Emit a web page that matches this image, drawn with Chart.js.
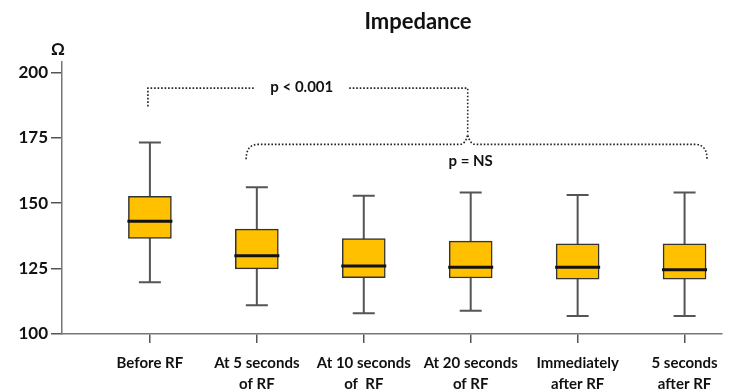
<!DOCTYPE html>
<html>
<head>
<meta charset="utf-8">
<script src="https://cdn.jsdelivr.net/npm/chart.js@4.4.1/dist/chart.umd.min.js"></script>
<style>
  html, body { margin: 0; padding: 0; background: #fff; }
  #wrap { width: 754px; height: 392px; position: relative; }
</style>
</head>
<body>
<div id="wrap"><canvas id="impedanceChart"></canvas></div>
<script>
// Impedance box plots
const categories = [
  ["Before RF"],
  ["At 5 seconds", "of RF"],
  ["At 10 seconds", "of  RF"],
  ["At 20 seconds", "of RF"],
  ["Immediately", "after RF"],
  ["5 seconds", "after RF"]
];
const whiskerMin = [119.8, 111.0, 107.9, 108.9, 106.9, 106.9];
const q1 = [136.5, 124.9, 121.5, 121.4, 121.0, 121.0];
const median = [143.1, 129.9, 126.0, 125.5, 125.5, 124.6];
const q3 = [152.6, 140.1, 136.5, 135.5, 134.5, 134.5];
const whiskerMax = [173.2, 156.1, 152.9, 154.1, 153.1, 154.1];
const yTicks = [100, 125, 150, 175, 200];

// significance brackets (in axis units)
const bracketText = "p < 0.001";
const bracketLevel = 194;
const bracketLegBottom = 187;
const braceText = "p = NS";
const braceLevel = 172.5;
const braceEnds = 166.8;
const bracePeak = 176.3;

const FONT = "Lato, 'Open Sans', sans-serif";

// whiskers behind the boxes, medians on top
const boxPlotPlugin = {
  id: "boxWhiskers",
  beforeDatasetsDraw(chart) {
    const { ctx, scales: { x, y } } = chart;
    ctx.save();
    ctx.strokeStyle = "#555";
    ctx.lineWidth = 2;
    categories.forEach((c, i) => {
      const px = x.getPixelForValue(i);
      const top = y.getPixelForValue(whiskerMax[i]);
      const bot = y.getPixelForValue(whiskerMin[i]);
      ctx.beginPath();
      ctx.moveTo(px, top);
      ctx.lineTo(px, bot);
      ctx.moveTo(px - 11, top);
      ctx.lineTo(px + 11, top);
      ctx.moveTo(px - 11, bot);
      ctx.lineTo(px + 11, bot);
      ctx.stroke();
    });
    ctx.restore();
  },
  afterDatasetsDraw(chart) {
    const { ctx, scales: { x, y } } = chart;
    ctx.save();
    ctx.strokeStyle = "#111";
    ctx.lineWidth = 3;
    categories.forEach((c, i) => {
      const px = x.getPixelForValue(i);
      const py = y.getPixelForValue(median[i]);
      ctx.beginPath();
      ctx.moveTo(px - 22.5, py);
      ctx.lineTo(px + 22.5, py);
      ctx.stroke();
    });
    ctx.restore();
  }
};

// title, unit label and the dotted significance brackets
const annotationPlugin = {
  id: "annotations",
  afterDraw(chart) {
    const { ctx, scales: { x, y } } = chart;
    ctx.save();
    ctx.fillStyle = "#111";
    ctx.textAlign = "center";
    ctx.textBaseline = "middle";
    ctx.font = "bold 22px " + FONT;
    ctx.fillText("Impedance", 418, 22);
    ctx.font = "bold 17px " + FONT;
    ctx.fillText("\u03A9", 58, 50);

    ctx.strokeStyle = "#222";
    ctx.lineWidth = 1.6;
    ctx.setLineDash([1.6, 1.9]);

    // p < 0.001 bracket: Before RF vs the rest
    const lx = x.getPixelForValue(0) - 2;
    const rx = x.getPixelForValue(3) - 3;
    const by = y.getPixelForValue(bracketLevel);
    const legY = y.getPixelForValue(bracketLegBottom);
    const peakY = y.getPixelForValue(bracePeak);
    ctx.font = "bold 15px " + FONT;
    const tx = (lx + rx) / 2 - 6;
    const tw = ctx.measureText(bracketText).width;
    ctx.beginPath();
    ctx.moveTo(lx, legY);
    ctx.lineTo(lx, by);
    ctx.lineTo(tx - tw / 2 - 16, by);
    ctx.moveTo(tx + tw / 2 + 16, by);
    ctx.lineTo(rx, by);
    ctx.lineTo(rx, peakY);
    ctx.stroke();
    ctx.fillText(bracketText, tx, by - 1);

    // curly brace over the RF time points
    const bl = x.getPixelForValue(0.9);
    const br = x.getPixelForValue(5.21);
    const ly = y.getPixelForValue(braceLevel);
    const ey = y.getPixelForValue(braceEnds);
    const r = 12;
    ctx.beginPath();
    ctx.moveTo(bl, ey);
    ctx.quadraticCurveTo(bl, ly, bl + r, ly);
    ctx.lineTo(rx - 8, ly);
    ctx.quadraticCurveTo(rx - 2, ly, rx, peakY);
    ctx.quadraticCurveTo(rx + 2, ly, rx + 8, ly);
    ctx.lineTo(br - r, ly);
    ctx.quadraticCurveTo(br, ly, br, ey);
    ctx.stroke();
    ctx.setLineDash([]);
    ctx.fillText(braceText, x.getPixelForValue(3), y.getPixelForValue(166.2));
    ctx.restore();
  }
};

const ctx = document.getElementById("impedanceChart").getContext("2d");
const impedanceChart = new Chart(ctx, {
  type: "bar",
  data: {
    datasets: [
      {
        data: categories.map((c, i) => ({ x: i, y: [q1[i], q3[i]] })),
        backgroundColor: "#FFC000",
        borderColor: "#333",
        borderWidth: 1.5,
        borderSkipped: false,
        barThickness: 43
      }
    ]
  },
  options: {
    responsive: true,
    maintainAspectRatio: false,
    animation: false,
    layout: { padding: { top: 62, right: 32, left: 0, bottom: 0 } },
    scales: {
      x: {
        type: "linear",
        offset: false,
        min: -0.822,
        max: 5.35,
        afterBuildTicks: s => { s.ticks = categories.map((c, i) => ({ value: i })); },
        afterFit: s => { s.height = 58; },
        grid: { offset: false, drawOnChartArea: false, drawTicks: true, tickLength: 9, color: "#555", lineWidth: 1.5 },
        border: { color: "#777", width: 1.5 },
        ticks: {
          callback: v => categories[v],
          autoSkip: false,
          maxRotation: 0,
          padding: 10,
          color: "#111",
          font: { family: FONT, size: 15, weight: "bold", lineHeight: 1.4 }
        }
      },
      y: {
        min: 100,
        max: 204,
        afterBuildTicks: s => { s.ticks = yTicks.map(v => ({ value: v })); },
        afterFit: s => { s.width = 62; },
        grid: { drawOnChartArea: false, drawTicks: true, tickLength: 11, color: "#555", lineWidth: 1.5 },
        border: { color: "#777", width: 1.5 },
        ticks: {
          padding: 3,
          color: "#111",
          font: { family: FONT, size: 17, weight: "bold" }
        }
      }
    },
    plugins: {
      legend: { display: false },
      tooltip: { enabled: false }
    }
  },
  plugins: [boxPlotPlugin, annotationPlugin]
});
</script>
</body>
</html>
